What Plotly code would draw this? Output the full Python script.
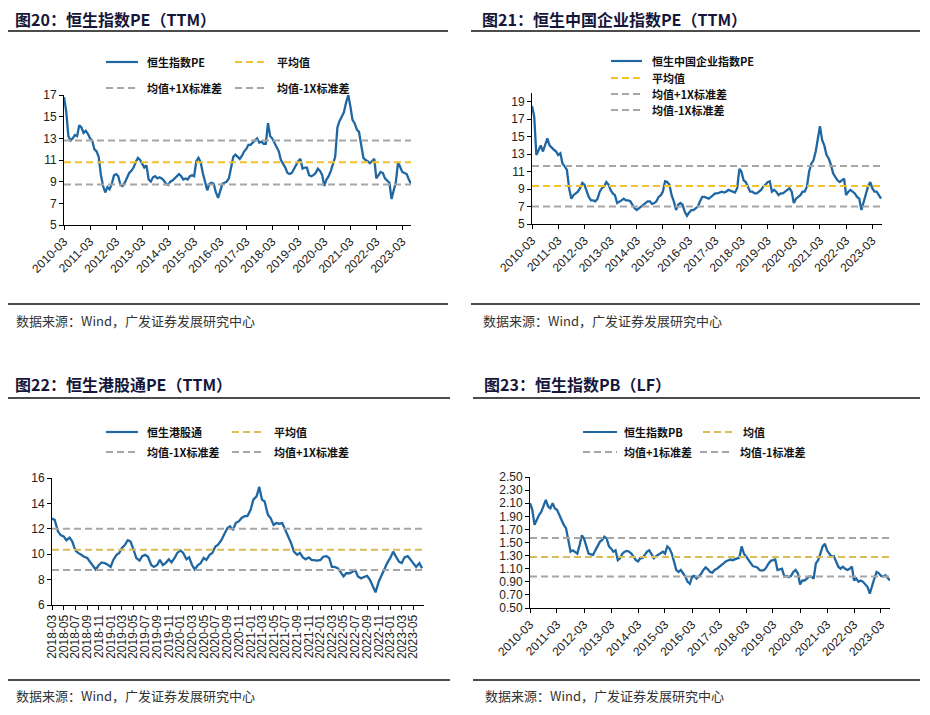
import pandas as pd
import plotly.graph_objects as go

# ---------------- data ----------------
# 图20 恒生指数PE（TTM）, monthly from 2010-03
hsi_pe = [
    16.8, 15.5, 13.2, 12.8, 13.0, 13.3, 13.2, 14.2, 14.0, 13.5,
    13.7, 13.4, 13.0, 12.8, 12.0, 11.8, 11.3, 9.6, 8.6, 8.0, 8.5, 8.3,
    8.8, 9.6, 9.7, 9.5, 8.7, 8.6, 8.9, 9.3, 9.8, 10.0, 10.3, 10.8,
    11.2, 11.0, 10.7, 10.3, 10.5, 9.2, 9.0, 9.4, 9.5, 9.3, 9.4, 9.3,
    9.1, 8.8, 8.7, 9.0, 9.1, 9.3, 9.5, 9.7, 9.5, 9.2, 9.3, 9.2,
    9.5, 9.6, 9.5, 10.9, 11.2, 10.8, 9.8, 9.0, 8.2, 8.8, 8.9, 8.8,
    8.0, 7.5, 8.2, 8.8, 8.9, 9.0, 9.3, 10.2, 11.3, 11.5, 11.3, 11.1,
    11.4, 11.8, 12.0, 12.4, 12.4, 12.6, 12.8, 13.0, 12.6, 12.7, 12.5, 12.5,
    14.4, 13.2, 13.0, 12.6, 12.3, 11.8, 11.0, 10.7, 10.3, 9.8, 9.7, 9.8,
    10.2, 10.5, 10.9, 11.1, 10.2, 10.3, 10.3, 9.6, 9.5, 9.6, 9.8, 10.2,
    10.0, 9.6, 8.6, 9.2, 9.5, 10.0, 10.6, 11.3, 14.0, 14.6, 15.0, 15.4,
    16.3, 17.0, 16.0, 14.7, 14.4, 13.8, 13.6, 12.2, 11.2, 11.0, 10.9, 10.7,
    10.9, 11.1, 9.3, 9.6, 9.9, 9.8, 9.3, 9.1, 8.9, 7.4, 8.3, 9.0,
    10.8, 10.3, 9.9, 9.8, 9.7, 9.2, 8.8,
]
hsi_pe_mean, hsi_pe_up, hsi_pe_dn = 10.8, 12.8, 8.75

# 图21 恒生中国企业指数PE（TTM）, monthly from 2010-03
hscei_pe = [
    18.5, 17.3, 12.9, 13.5, 14.0, 13.3, 14.0, 14.8, 14.0, 13.7,
    13.5, 13.3, 12.9, 13.1, 11.9, 11.6, 11.2, 9.1, 7.9, 8.3, 8.5, 8.7,
    9.1, 9.7, 9.5, 8.7, 8.1, 7.7, 7.7, 7.6, 7.9, 8.7, 9.1, 9.3,
    9.8, 9.5, 8.9, 8.5, 8.3, 7.4, 7.6, 7.7, 7.9, 7.7, 7.7, 7.6,
    7.2, 6.8, 6.6, 6.8, 7.0, 7.2, 7.4, 7.6, 7.6, 7.3, 7.4, 7.6,
    8.1, 8.3, 8.7, 9.9, 9.8, 9.5, 8.3, 7.6, 6.6, 7.2, 7.4, 7.2,
    6.4, 5.95, 6.3, 6.6, 6.6, 6.8, 7.0, 7.6, 8.1, 8.1, 8.0, 7.9,
    8.1, 8.3, 8.5, 8.5, 8.6, 8.7, 8.6, 8.7, 8.9, 8.8, 8.7, 8.6,
    9.1, 11.3, 11.0, 10.0, 9.8, 9.2, 8.7, 8.7, 8.5, 8.5, 8.7, 8.9,
    9.3, 9.5, 9.8, 9.9, 8.7, 8.9, 8.7, 8.3, 8.5, 8.5, 8.7, 8.9,
    9.1, 8.7, 7.4, 7.9, 8.1, 8.3, 8.7, 8.7, 9.3, 11.0, 11.9, 12.3,
    13.3, 15.0, 16.2, 14.6, 14.0, 12.9, 12.5, 11.8, 10.8, 10.4, 10.0, 9.8,
    10.0, 10.2, 8.3, 8.7, 8.9, 8.7, 8.5, 8.1, 7.9, 6.6, 7.6, 8.5,
    9.3, 9.8, 9.1, 8.7, 8.7, 8.3, 7.9,
]
hscei_pe_mean, hscei_pe_up, hscei_pe_dn = 9.35, 11.65, 7.0

# 图22 恒生港股通PE（TTM）, half-monthly from 2018-03
hs_connect_pe = [
    12.8, 12.7, 11.8, 11.5, 11.4, 11.1, 11.3, 11.0, 10.3, 10.1,
    9.95, 9.8, 9.7, 9.4, 9.15, 8.8, 9.15, 9.35, 9.3, 9.2,
    9.0, 9.55, 9.95, 10.1, 10.5, 10.7, 11.1, 11.0, 10.35, 9.7,
    9.5, 9.85, 9.95, 9.8, 9.15, 9.0, 9.15, 9.55, 9.15, 9.3,
    9.6, 9.35, 9.7, 10.1,
    10.3, 10.1, 9.6, 9.75, 9.15, 8.8, 9.15, 9.3, 9.7, 9.55,
    9.95, 10.1, 10.6, 10.75, 11.1, 11.5, 12.05, 12.2, 11.9, 12.45,
    12.6, 12.85, 13.0, 13.0,
    13.5, 14.3, 14.55, 15.3, 14.3, 14.15, 13.1, 12.85, 12.3, 12.45,
    12.4, 12.45, 11.9, 11.4, 10.85, 10.2, 9.95, 10.1, 9.75, 9.6,
    9.75, 9.55, 9.5, 9.5,
    9.55, 9.8, 9.85, 9.7, 9.0, 9.0, 8.9, 8.6, 8.25, 8.5,
    8.5, 8.6, 8.75, 8.25, 8.1, 8.2, 8.3, 8.0, 7.45, 7.0,
    7.85, 8.35, 8.9, 9.3,
    9.75, 10.2, 9.75, 9.4, 9.3, 9.75, 9.85, 9.6, 9.25, 9.0,
    9.3, 8.9,
]
hs_connect_mean, hs_connect_dn, hs_connect_up = 10.35, 8.75, 12.0

# 图23 恒生指数PB（LF）, monthly from 2010-03
hsi_pb = [
    2.10, 2.00, 1.77, 1.85, 1.92, 1.97, 2.05, 2.15, 2.05, 2.02,
    2.10, 2.02, 2.00, 1.92, 1.85, 1.77, 1.72, 1.51, 1.36, 1.38, 1.36, 1.33,
    1.46, 1.61, 1.56, 1.46, 1.33, 1.32, 1.31, 1.38, 1.46, 1.51, 1.54, 1.59,
    1.56, 1.44, 1.41, 1.36, 1.38, 1.23, 1.26, 1.33, 1.36, 1.37, 1.36, 1.33,
    1.28, 1.23, 1.21, 1.26, 1.26, 1.31, 1.36, 1.38, 1.31, 1.26, 1.29, 1.31,
    1.33, 1.36, 1.33, 1.44, 1.41, 1.33, 1.21, 1.08, 1.05, 1.08, 1.03, 0.98,
    0.90, 0.87, 0.98, 0.99, 0.95, 0.98, 1.02, 1.08, 1.12, 1.09, 1.05, 1.04,
    1.08, 1.10, 1.13, 1.15, 1.18, 1.21, 1.23, 1.24, 1.23, 1.24, 1.26, 1.27,
    1.44, 1.33, 1.29, 1.24, 1.18, 1.14, 1.13, 1.12, 1.08, 1.07, 1.08, 1.12,
    1.18, 1.22, 1.23, 1.24, 1.08, 1.09, 1.10, 0.98, 0.99, 0.97, 0.99, 1.05,
    1.08, 1.03, 0.86, 0.92, 0.92, 0.95, 0.98, 0.98, 0.95, 1.18, 1.23, 1.33,
    1.44, 1.48, 1.38, 1.33, 1.28, 1.29, 1.21, 1.13, 1.10, 1.13, 1.10, 1.08,
    1.10, 1.13, 0.92, 0.95, 0.90, 0.92, 0.90, 0.85, 0.82, 0.72, 0.85, 0.95,
    1.05, 1.03, 0.99, 0.98, 1.00, 0.95, 0.92,
]
hsi_pb_mean, hsi_pb_up, hsi_pb_dn = 1.28, 1.57, 0.98

titles = ["图20：恒生指数PE（TTM）", "图21：恒生中国企业指数PE（TTM）",
          "图22：恒生港股通PE（TTM）", "图23：恒生指数PB（LF）"]
source = "数据来源：Wind，广发证券发展研究中心"

d1 = pd.date_range("2010-03-01", periods=len(hsi_pe), freq="MS")
d2 = pd.date_range("2010-03-01", periods=len(hscei_pe), freq="MS")
d3 = pd.date_range("2018-03-01", periods=len(hs_connect_pe), freq="SMS")
d4 = pd.date_range("2010-03-01", periods=len(hsi_pb), freq="MS")

# ---------------- styling ----------------
OFF = 8                      # page body margin of the browser
W, H = 930 - OFF, 715 - OFF  # figure size so that it fills the window
BLUE = "#1f67a3"
GOLD1 = "#f2c12e"
GOLD2 = "#d8bd5a"
GRAY = "#a6a6a6"
DASH = "7px,4px"
TICKFONT = dict(family="Liberation Sans, Arial", size=12, color="#222222")
CJK = "Noto Sans CJK SC"


def X(px):
    return (px - OFF) / W


def Y(py):
    return 1 - (py - OFF) / H


fig = go.Figure()


def add_panel(i, dates, vals, lines, name):
    xa = "x" if i == 1 else f"x{i}"
    ya = "y" if i == 1 else f"y{i}"
    fig.add_trace(go.Scatter(x=dates, y=vals, mode="lines", name=name,
                             line=dict(color=BLUE, width=2.3),
                             xaxis=xa, yaxis=ya, showlegend=False))
    for v, c in lines:
        fig.add_trace(go.Scatter(x=[dates[0], dates[-1]], y=[v, v], mode="lines",
                                 line=dict(color=c, width=2, dash=DASH),
                                 xaxis=xa, yaxis=ya, showlegend=False,
                                 hoverinfo="skip"))


add_panel(1, d1, hsi_pe, [(hsi_pe_up, GRAY), (hsi_pe_dn, GRAY), (hsi_pe_mean, GOLD1)], "恒生指数PE")
add_panel(2, d2, hscei_pe, [(hscei_pe_up, GRAY), (hscei_pe_dn, GRAY), (hscei_pe_mean, GOLD1)], "恒生中国企业指数PE")
add_panel(3, d3, hs_connect_pe, [(hs_connect_up, GRAY), (hs_connect_dn, GRAY), (hs_connect_mean, GOLD2)], "恒生港股通")
add_panel(4, d4, hsi_pb, [(hsi_pb_up, GRAY), (hsi_pb_dn, GRAY), (hsi_pb_mean, GOLD2)], "恒生指数PB")


def xaxis(x0, x1, y_anchor, rng, tick0, dtick, angle):
    return dict(domain=[X(x0), X(x1)], anchor=y_anchor, type="date",
                range=rng, tick0=tick0, dtick=dtick, tickformat="%Y-%m",
                tickangle=angle, ticks="outside", ticklen=4, tickcolor="black",
                showline=True, linecolor="black", linewidth=1, automargin=False,
                showgrid=False, zeroline=False, tickfont=TICKFONT)


def yaxis(y_top, y_bot, x_anchor, rng, dtick, fmt=None):
    d = dict(domain=[Y(y_bot), Y(y_top)], anchor=x_anchor, range=rng,
             dtick=dtick, tick0=rng[0], ticks="outside", ticklen=4, tickcolor="black",
             showline=True, linecolor="black", linewidth=1, automargin=False,
             showgrid=False, zeroline=False, tickfont=TICKFONT)
    if fmt:
        d["tickformat"] = fmt
    return d


fig.update_layout(
    width=W, height=H, margin=dict(l=0, r=0, t=0, b=0, autoexpand=False),
    paper_bgcolor="white", plot_bgcolor="white", showlegend=False,
    xaxis=xaxis(64, 411, "y", ["2010-03-01", "2023-07-01"], "2010-03-01", "M12", -45),
    yaxis=yaxis(95, 225, "x", [5, 17], 2),
    xaxis2=xaxis(532, 882, "y2", ["2010-03-01", "2023-07-15"], "2010-03-01", "M12", -45),
    yaxis2=yaxis(93, 224, "x2", [5, 20], 2),
    xaxis3=xaxis(52, 424, "y3", ["2018-03-01", "2023-06-25"], "2018-03-01", "M2", -90),
    yaxis3=yaxis(478, 605, "x3", [6, 16], 2),
    xaxis4=xaxis(530, 890, "y4", ["2010-03-01", "2023-07-01"], "2010-03-01", "M12", -45),
    yaxis4=yaxis(477, 608, "x4", [0.5, 2.5], 0.2, ".2f"),
)

shapes = []
annotations = []


def hline(x0, x1, y, w=1.4):
    shapes.append(dict(type="line", xref="paper", yref="paper",
                       x0=X(x0), x1=X(x1), y0=Y(y), y1=Y(y),
                       line=dict(color="#111111", width=w)))


def text(px, py, s, size, color="#111111", family=CJK, pad=1):
    annotations.append(dict(xref="paper", yref="paper", x=X(px), y=Y(py),
                            text=s, showarrow=False, xanchor="left", yanchor="middle",
                            borderpad=pad,
                            font=dict(family=family, size=size, color=color)))


def leg(x0, x1, y, color, dash, label, tx):
    shapes.append(dict(type="line", xref="paper", yref="paper",
                       x0=X(x0), x1=X(x1), y0=Y(y), y1=Y(y),
                       line=dict(color=color, width=2.2 if dash is None else 2,
                                 dash=dash if dash else "solid")))
    text(tx, y, "<b>" + label + "</b>", 11)


# titles and separators
text(14, 19, "<b>" + titles[0] + "</b>", 16, "#16163a", pad=0)
text(481, 19, "<b>" + titles[1] + "</b>", 16, "#16163a", pad=0)
text(14, 384, "<b>" + titles[2] + "</b>", 16, "#16163a", pad=0)
text(483, 384, "<b>" + titles[3] + "</b>", 16, "#16163a", pad=0)
hline(5, 448, 31)
hline(471, 920, 31)
hline(5, 448, 304)
hline(471, 920, 304)
hline(5, 450, 398)
hline(473, 920, 398)
hline(5, 450, 680)
hline(473, 920, 680)
for (sx, sy) in [(14, 320), (481, 320), (14, 695), (483, 695)]:
    text(sx, sy, source, 13, "#333333")

# legends
leg(106, 138, 62, BLUE, None, "恒生指数PE", 145)
leg(235, 268, 62, GOLD1, DASH, "平均值", 275)
leg(106, 138, 88, GRAY, DASH, "均值+1X标准差", 145)
leg(235, 268, 88, GRAY, DASH, "均值-1X标准差", 275)

leg(611, 642, 61, BLUE, None, "恒生中国企业指数PE", 650)
leg(611, 642, 78, GOLD1, DASH, "平均值", 650)
leg(611, 642, 94, GRAY, DASH, "均值+1X标准差", 650)
leg(611, 642, 110, GRAY, DASH, "均值-1X标准差", 650)

leg(106, 138, 432, BLUE, None, "恒生港股通", 145)
leg(232, 265, 432, GOLD2, DASH, "平均值", 272)
leg(106, 138, 452, GRAY, DASH, "均值-1X标准差", 145)
leg(232, 265, 452, GRAY, DASH, "均值+1X标准差", 272)

leg(583, 617, 432, BLUE, None, "恒生指数PB", 622)
leg(703, 735, 432, GOLD2, DASH, "均值", 741)
leg(583, 617, 452, GRAY, DASH, "均值+1标准差", 622)
leg(700, 732, 452, GRAY, DASH, "均值-1标准差", 738)

fig.update_layout(shapes=shapes, annotations=annotations)
fig.write_html("out.html")
